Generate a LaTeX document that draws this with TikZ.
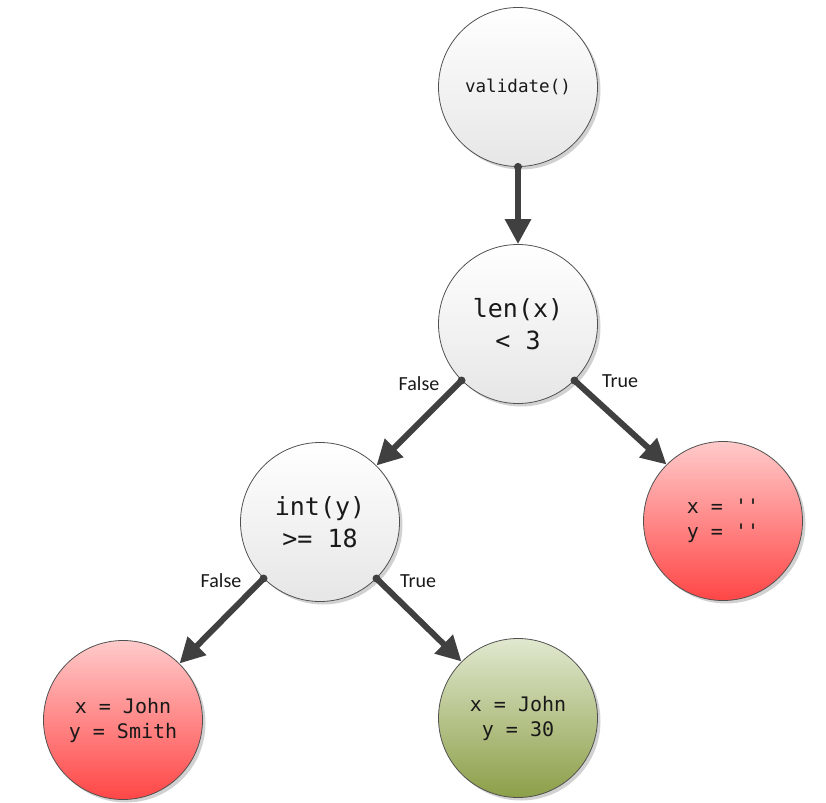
\documentclass[tikz,border=0pt]{standalone}
\usepackage{fontspec}
\setmonofont{DejaVu Sans Mono}
\newfontfamily\labelfont{Carlito}
\usetikzlibrary{arrows.meta,shadows}
\definecolor{edgegray}{HTML}{404040}
\definecolor{rimgray}{HTML}{505050}
\definecolor{graytop}{HTML}{FFFFFF}
\definecolor{graybot}{HTML}{E6E6E6}
\definecolor{redtop}{HTML}{FFCACA}
\definecolor{redbot}{HTML}{FF4646}
\definecolor{greentop}{HTML}{E0E8CF}
\definecolor{greenbot}{HTML}{8C9F48}
\tikzset{
  x=1pt, y=-1pt,
  ball/.style={circle, minimum size=159pt, inner sep=0pt, draw=rimgray, line width=0.8pt,
    align=center, font=\ttfamily, text=black!90,
    drop shadow={shadow xshift=3pt, shadow yshift=-3pt, opacity=0.18, fill=black}},
  testball/.style={ball, top color=graytop, bottom color=graybot},
  failball/.style={ball, top color=redtop, bottom color=redbot},
  passball/.style={ball, top color=greentop, bottom color=greenbot},
  flow/.style={draw=edgegray, line width=6pt,
    -{Triangle[length=25pt,width=25pt]}},
  startdot/.style={fill=edgegray, circle, inner sep=0pt, minimum size=8pt},
  branch/.style={font=\labelfont\fontsize{20}{24}\selectfont, text=black!90, inner sep=0pt}
}
\begin{document}
\begin{tikzpicture}
\useasboundingbox (0,0) rectangle (826,802);

\node[testball, font=\ttfamily\fontsize{17.6}{21}\selectfont] (validate) at (518,87) {validate()};
\node[testball, font=\ttfamily\fontsize{25}{32}\selectfont] (lenx) at (518,324) {len(x)\\< 3};
\node[testball, font=\ttfamily\fontsize{25}{32}\selectfont] (inty) at (320,522) {int(y)\\>= 18};
\node[failball, font=\ttfamily\fontsize{20}{25}\selectfont] (empty) at (723,521) {x = ''\\y = ''};
\node[failball, font=\ttfamily\fontsize{20}{25}\selectfont] (smith) at (123,720) {x = John\\y = Smith};
\node[passball, font=\ttfamily\fontsize{20}{25}\selectfont] (thirty) at (518,718) {x = John\\y = 30};

% connectors between the tests and their outcomes
\draw[flow] (validate.south) -- (lenx.north);
\draw[flow] (lenx.-135) -- (inty.45);
\draw[flow] (lenx.-45) -- (empty.135);
\draw[flow] (inty.-135) -- (smith.45);
\draw[flow] (inty.-45) -- (thirty.135);

% round ends where each connector leaves its circle
\node[startdot] (d1) at (validate.south) {};
\node[startdot] (d2) at (lenx.-135) {};
\node[startdot] (d3) at (lenx.-45) {};
\node[startdot] (d4) at (inty.-135) {};
\node[startdot] (d5) at (inty.-45) {};

% branch labels
\node[branch] (lf) at (419,384) {False};
\node[branch] (lt) at (620,381) {True};
\node[branch] (if) at (221,581) {False};
\node[branch] (it) at (418,581) {True};
\end{tikzpicture}
\end{document}
